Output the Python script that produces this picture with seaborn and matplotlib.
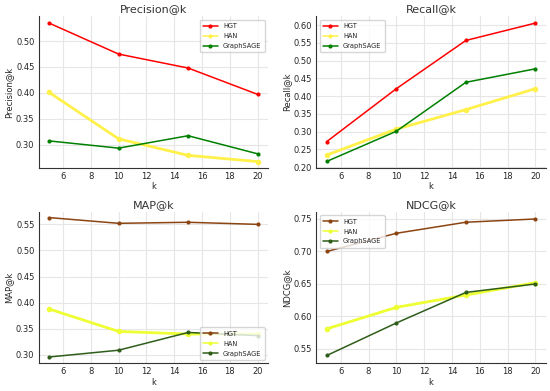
import matplotlib
matplotlib.use("Agg")
import matplotlib.pyplot as plt
import seaborn as sns
import pandas as pd

k = [5, 10, 15, 20]
models = ["HGT", "HAN", "GraphSAGE"]

precision_hgt = [0.535, 0.475, 0.448, 0.397]
precision_han = [0.401, 0.311, 0.279, 0.267]
precision_sage = [0.307, 0.293, 0.317, 0.282]

recall_hgt = [0.272, 0.421, 0.557, 0.606]
recall_han = [0.234, 0.307, 0.362, 0.421]
recall_sage = [0.216, 0.301, 0.439, 0.477]

map_hgt = [0.563, 0.552, 0.554, 0.550]
map_han = [0.388, 0.345, 0.340, 0.340]
map_sage = [0.296, 0.309, 0.343, 0.337]

ndcg_hgt = [0.700, 0.728, 0.745, 0.750]
ndcg_han = [0.581, 0.614, 0.633, 0.652]
ndcg_sage = [0.540, 0.590, 0.637, 0.650]

sns.set_style("whitegrid", {"grid.color": "#e6e6e6", "axes.edgecolor": "#333333"})
plt.rcParams["font.family"] = ["DejaVu Sans"]

fig, axes = plt.subplots(2, 2, figsize=(5.5, 3.91), dpi=100)

panels = [
    ("Precision@k", [precision_hgt, precision_han, precision_sage], ["red", "#fff04a", "green"], "upper right"),
    ("Recall@k", [recall_hgt, recall_han, recall_sage], ["red", "#fff04a", "green"], "upper left"),
    ("MAP@k", [map_hgt, map_han, map_sage], ["#8b4513", "#eeff33", "#2e5e1a"], "lower right"),
    ("NDCG@k", [ndcg_hgt, ndcg_han, ndcg_sage], ["#8b4513", "#eeff33", "#2e5e1a"], "upper left"),
]

for ax, (title, series, colors, loc) in zip(axes.flat, panels):
    rows = []
    for m, vals in zip(models, series):
        for kk, v in zip(k, vals):
            rows.append({"k": kk, "value": v, "model": m})
    df = pd.DataFrame(rows)
    sns.lineplot(data=df, x="k", y="value", hue="model", palette=colors,
                 marker="o", markersize=3, markeredgewidth=0, linewidth=1.1, ax=ax)
    # HAN line drawn thicker, as in the original
    ax.lines[1].set_linewidth(2.0)
    ax.lines[1].set_markersize(4)
    ax.set_title(title, fontsize=8, color="#333333", pad=3)
    ax.set_xlabel("k", fontsize=6, labelpad=1)
    ax.set_ylabel(title, fontsize=6, labelpad=2)
    ax.tick_params(labelsize=6, pad=1, length=2)
    ax.set_xticks([6, 8, 10, 12, 14, 16, 18, 20])
    ax.set_xlim(4.25, 20.75)
    for s in ["top", "right"]:
        ax.spines[s].set_visible(False)
    for s in ["left", "bottom"]:
        ax.spines[s].set_linewidth(0.8)
    ax.legend(loc=loc, fontsize=4.8, frameon=True, handlelength=2.2,
              borderpad=0.5, labelspacing=0.6)

axes[0, 0].set_ylim(0.255, 0.548)
axes[0, 1].set_ylim(0.198, 0.625)
axes[1, 0].set_ylim(0.284, 0.574)
axes[1, 1].set_ylim(0.528, 0.761)

plt.tight_layout(pad=0.3, w_pad=1.0, h_pad=0.6)
plt.savefig("out.png", dpi=100)
